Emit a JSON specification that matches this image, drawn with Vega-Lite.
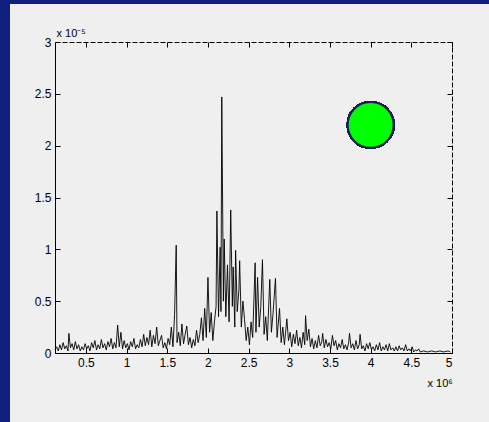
{
  "$schema": "https://vega.github.io/schema/vega-lite/v6.json",
  "autosize": "none",
  "width": 397,
  "height": 311,
  "padding": {"left": 55, "top": 42, "right": 37, "bottom": 69},
  "background": "#10207f",
  "config": {
    "view": {"stroke": null},
    "axis": {
      "labelFont": "Liberation Sans",
      "labelFontSize": 12,
      "labelColor": "#000000",
      "titleFont": "Liberation Sans",
      "titleColor": "#000000",
      "titleFontWeight": "normal",
      "titleFontSize": 11,
      "domainColor": "#000000",
      "tickColor": "#000000",
      "tickSize": -5,
      "labelPadding": 9,
      "grid": false
    }
  },
  "data": {
    "values": [
      {"f": 0.12, "a": 0.03}, {"f": 0.14, "a": 0.06}, {"f": 0.16, "a": 0.02}, {"f": 0.18, "a": 0.08},
      {"f": 0.20, "a": 0.03}, {"f": 0.22, "a": 0.10}, {"f": 0.24, "a": 0.04}, {"f": 0.26, "a": 0.07},
      {"f": 0.28, "a": 0.02}, {"f": 0.29, "a": 0.19}, {"f": 0.31, "a": 0.05}, {"f": 0.33, "a": 0.09},
      {"f": 0.35, "a": 0.03}, {"f": 0.37, "a": 0.11}, {"f": 0.39, "a": 0.04}, {"f": 0.41, "a": 0.08},
      {"f": 0.43, "a": 0.02}, {"f": 0.45, "a": 0.06}, {"f": 0.47, "a": 0.03}, {"f": 0.49, "a": 0.09},
      {"f": 0.51, "a": 0.04}, {"f": 0.53, "a": 0.07}, {"f": 0.55, "a": 0.02}, {"f": 0.57, "a": 0.10},
      {"f": 0.59, "a": 0.05}, {"f": 0.61, "a": 0.12}, {"f": 0.63, "a": 0.03}, {"f": 0.65, "a": 0.08},
      {"f": 0.67, "a": 0.04}, {"f": 0.69, "a": 0.13}, {"f": 0.71, "a": 0.05}, {"f": 0.73, "a": 0.09},
      {"f": 0.75, "a": 0.03}, {"f": 0.77, "a": 0.11}, {"f": 0.79, "a": 0.06}, {"f": 0.81, "a": 0.14},
      {"f": 0.83, "a": 0.04}, {"f": 0.85, "a": 0.10}, {"f": 0.87, "a": 0.05}, {"f": 0.89, "a": 0.27},
      {"f": 0.91, "a": 0.06}, {"f": 0.93, "a": 0.20}, {"f": 0.95, "a": 0.04}, {"f": 0.97, "a": 0.12},
      {"f": 0.99, "a": 0.05}, {"f": 1.01, "a": 0.09}, {"f": 1.03, "a": 0.03}, {"f": 1.05, "a": 0.11},
      {"f": 1.07, "a": 0.06}, {"f": 1.09, "a": 0.14}, {"f": 1.11, "a": 0.04}, {"f": 1.13, "a": 0.08},
      {"f": 1.15, "a": 0.05}, {"f": 1.17, "a": 0.13}, {"f": 1.19, "a": 0.06}, {"f": 1.21, "a": 0.18},
      {"f": 1.23, "a": 0.07}, {"f": 1.25, "a": 0.15}, {"f": 1.27, "a": 0.08}, {"f": 1.29, "a": 0.22},
      {"f": 1.31, "a": 0.06}, {"f": 1.33, "a": 0.17}, {"f": 1.35, "a": 0.09}, {"f": 1.37, "a": 0.25},
      {"f": 1.39, "a": 0.07}, {"f": 1.41, "a": 0.12}, {"f": 1.43, "a": 0.17}, {"f": 1.45, "a": 0.05},
      {"f": 1.47, "a": 0.10}, {"f": 1.49, "a": 0.04}, {"f": 1.51, "a": 0.14}, {"f": 1.53, "a": 0.08},
      {"f": 1.55, "a": 0.25}, {"f": 1.57, "a": 0.06}, {"f": 1.59, "a": 0.37}, {"f": 1.61, "a": 1.04},
      {"f": 1.62, "a": 0.10}, {"f": 1.64, "a": 0.20}, {"f": 1.66, "a": 0.07}, {"f": 1.68, "a": 0.28},
      {"f": 1.70, "a": 0.09}, {"f": 1.72, "a": 0.18}, {"f": 1.74, "a": 0.26}, {"f": 1.76, "a": 0.08},
      {"f": 1.78, "a": 0.15}, {"f": 1.80, "a": 0.05}, {"f": 1.82, "a": 0.13}, {"f": 1.84, "a": 0.07},
      {"f": 1.86, "a": 0.22}, {"f": 1.88, "a": 0.10}, {"f": 1.90, "a": 0.18}, {"f": 1.92, "a": 0.34},
      {"f": 1.94, "a": 0.12}, {"f": 1.96, "a": 0.43}, {"f": 1.98, "a": 0.15}, {"f": 2.00, "a": 0.73},
      {"f": 2.02, "a": 0.20}, {"f": 2.04, "a": 0.39}, {"f": 2.06, "a": 0.12}, {"f": 2.08, "a": 0.30},
      {"f": 2.10, "a": 0.45}, {"f": 2.11, "a": 1.37}, {"f": 2.13, "a": 0.35}, {"f": 2.15, "a": 1.02},
      {"f": 2.16, "a": 0.40}, {"f": 2.17, "a": 2.47}, {"f": 2.19, "a": 0.50}, {"f": 2.20, "a": 1.10},
      {"f": 2.22, "a": 0.35}, {"f": 2.24, "a": 0.85}, {"f": 2.26, "a": 0.30}, {"f": 2.28, "a": 1.38},
      {"f": 2.30, "a": 0.45}, {"f": 2.31, "a": 0.83}, {"f": 2.33, "a": 0.25}, {"f": 2.34, "a": 0.99},
      {"f": 2.36, "a": 0.40}, {"f": 2.38, "a": 0.60}, {"f": 2.39, "a": 0.89}, {"f": 2.41, "a": 0.25},
      {"f": 2.43, "a": 0.50}, {"f": 2.45, "a": 0.32}, {"f": 2.47, "a": 0.12}, {"f": 2.49, "a": 0.25},
      {"f": 2.51, "a": 0.08}, {"f": 2.53, "a": 0.30}, {"f": 2.55, "a": 0.15}, {"f": 2.58, "a": 0.87},
      {"f": 2.59, "a": 0.20}, {"f": 2.61, "a": 0.73}, {"f": 2.63, "a": 0.25}, {"f": 2.65, "a": 0.45},
      {"f": 2.67, "a": 0.90}, {"f": 2.69, "a": 0.18}, {"f": 2.71, "a": 0.35}, {"f": 2.73, "a": 0.12},
      {"f": 2.76, "a": 0.71}, {"f": 2.78, "a": 0.20}, {"f": 2.80, "a": 0.38}, {"f": 2.83, "a": 0.72},
      {"f": 2.85, "a": 0.15}, {"f": 2.88, "a": 0.43}, {"f": 2.90, "a": 0.10}, {"f": 2.92, "a": 0.25},
      {"f": 2.94, "a": 0.08}, {"f": 2.97, "a": 0.33}, {"f": 2.99, "a": 0.12}, {"f": 3.01, "a": 0.20},
      {"f": 3.03, "a": 0.06}, {"f": 3.05, "a": 0.18}, {"f": 3.07, "a": 0.09}, {"f": 3.09, "a": 0.22},
      {"f": 3.11, "a": 0.07}, {"f": 3.13, "a": 0.15}, {"f": 3.15, "a": 0.05}, {"f": 3.17, "a": 0.20},
      {"f": 3.19, "a": 0.08}, {"f": 3.20, "a": 0.36}, {"f": 3.22, "a": 0.12}, {"f": 3.24, "a": 0.23},
      {"f": 3.26, "a": 0.06}, {"f": 3.28, "a": 0.14}, {"f": 3.30, "a": 0.04}, {"f": 3.32, "a": 0.12},
      {"f": 3.34, "a": 0.05}, {"f": 3.36, "a": 0.17}, {"f": 3.38, "a": 0.07}, {"f": 3.40, "a": 0.11},
      {"f": 3.41, "a": 0.19}, {"f": 3.43, "a": 0.05}, {"f": 3.45, "a": 0.13}, {"f": 3.47, "a": 0.06},
      {"f": 3.49, "a": 0.10}, {"f": 3.51, "a": 0.04}, {"f": 3.53, "a": 0.17}, {"f": 3.55, "a": 0.07},
      {"f": 3.57, "a": 0.12}, {"f": 3.59, "a": 0.03}, {"f": 3.61, "a": 0.09}, {"f": 3.63, "a": 0.05},
      {"f": 3.65, "a": 0.13}, {"f": 3.67, "a": 0.04}, {"f": 3.69, "a": 0.08}, {"f": 3.71, "a": 0.03},
      {"f": 3.73, "a": 0.10}, {"f": 3.74, "a": 0.19}, {"f": 3.76, "a": 0.05}, {"f": 3.78, "a": 0.09},
      {"f": 3.80, "a": 0.03}, {"f": 3.82, "a": 0.12}, {"f": 3.84, "a": 0.04}, {"f": 3.86, "a": 0.08},
      {"f": 3.87, "a": 0.18}, {"f": 3.89, "a": 0.04}, {"f": 3.91, "a": 0.07}, {"f": 3.93, "a": 0.02},
      {"f": 3.95, "a": 0.09}, {"f": 3.97, "a": 0.04}, {"f": 3.99, "a": 0.10}, {"f": 4.01, "a": 0.03},
      {"f": 4.03, "a": 0.06}, {"f": 4.05, "a": 0.02}, {"f": 4.07, "a": 0.08}, {"f": 4.09, "a": 0.03},
      {"f": 4.11, "a": 0.10}, {"f": 4.13, "a": 0.02}, {"f": 4.15, "a": 0.06}, {"f": 4.17, "a": 0.03},
      {"f": 4.19, "a": 0.08}, {"f": 4.21, "a": 0.02}, {"f": 4.23, "a": 0.09}, {"f": 4.25, "a": 0.03},
      {"f": 4.27, "a": 0.05}, {"f": 4.29, "a": 0.02}, {"f": 4.31, "a": 0.06}, {"f": 4.33, "a": 0.02},
      {"f": 4.35, "a": 0.07}, {"f": 4.37, "a": 0.03}, {"f": 4.39, "a": 0.05}, {"f": 4.41, "a": 0.02},
      {"f": 4.43, "a": 0.08}, {"f": 4.45, "a": 0.02}, {"f": 4.47, "a": 0.04}, {"f": 4.49, "a": 0.02},
      {"f": 4.51, "a": 0.06}, {"f": 4.53, "a": 0.01}, {"f": 4.55, "a": 0.03}, {"f": 4.57, "a": 0.02},
      {"f": 4.59, "a": 0.04}, {"f": 4.61, "a": 0.01}, {"f": 4.65, "a": 0.02}, {"f": 4.70, "a": 0.01},
      {"f": 4.75, "a": 0.02}, {"f": 4.80, "a": 0.01}, {"f": 4.85, "a": 0.02}, {"f": 4.90, "a": 0.01},
      {"f": 4.95, "a": 0.02}, {"f": 4.98, "a": 0.01}
    ]
  },
  "layer": [
    {
      "mark": {"type": "rect", "color": "#efefef"},
      "encoding": {
        "x": {"datum": -0.433, "type": "quantitative", "axis": null, "scale": {"domain": [0.12, 5], "nice": false, "zero": false}},
        "x2": {"datum": 6.5},
        "y": {"datum": 3.366, "type": "quantitative", "axis": null, "scale": {"domain": [0, 3], "nice": false, "zero": false}},
        "y2": {"datum": -1.5}
      }
    },
    {
      "mark": {"type": "line", "color": "#000000", "strokeWidth": 0.9, "interpolate": "linear"},
      "encoding": {
        "x": {
          "field": "f", "type": "quantitative",
          "scale": {"domain": [0.12, 5], "nice": false, "zero": false},
          "axis": {
            "orient": "bottom",
            "zindex": 1,
            "values": [0.5, 1, 1.5, 2, 2.5, 3, 3.5, 4, 4.5, 5],
            "labelExpr": "'' + datum.value",
            "title": "x 10⁶",
            "titleAlign": "left",
            "titleBaseline": "alphabetic",
            "titleAnchor": "start",
            "titleX": 372,
            "titleY": 33
          }
        },
        "y": {
          "field": "a", "type": "quantitative",
          "scale": {"domain": [0, 3], "nice": false, "zero": false},
          "axis": {
            "orient": "left",
            "zindex": 1,
            "values": [0, 0.5, 1, 1.5, 2, 2.5, 3],
            "labelExpr": "'' + datum.value",
            "title": "x 10⁻⁵",
            "titleAngle": 0,
            "titleAlign": "left",
            "titleBaseline": "alphabetic",
            "titleX": 1,
            "titleY": -6
          }
        }
      }
    },
    {
      "mark": {"type": "point", "filled": true, "fill": "#00ff00", "stroke": "#1c1c5c", "strokeWidth": 2, "size": 2100, "opacity": 1},
      "encoding": {
        "x": {
          "datum": 4.0, "type": "quantitative",
          "axis": {"orient": "top", "zindex": 1, "values": [0.5, 1, 1.5, 2, 2.5, 3, 3.5, 4, 4.5, 5], "labels": false, "title": null, "domainDash": [5, 2]}
        },
        "y": {
          "datum": 2.2, "type": "quantitative",
          "axis": {"orient": "right", "zindex": 1, "values": [0, 0.5, 1, 1.5, 2, 2.5, 3], "labels": false, "title": null, "domainDash": [5, 2]}
        }
      }
    }
  ],
  "resolve": {"axis": {"x": "independent", "y": "independent"}}
}
